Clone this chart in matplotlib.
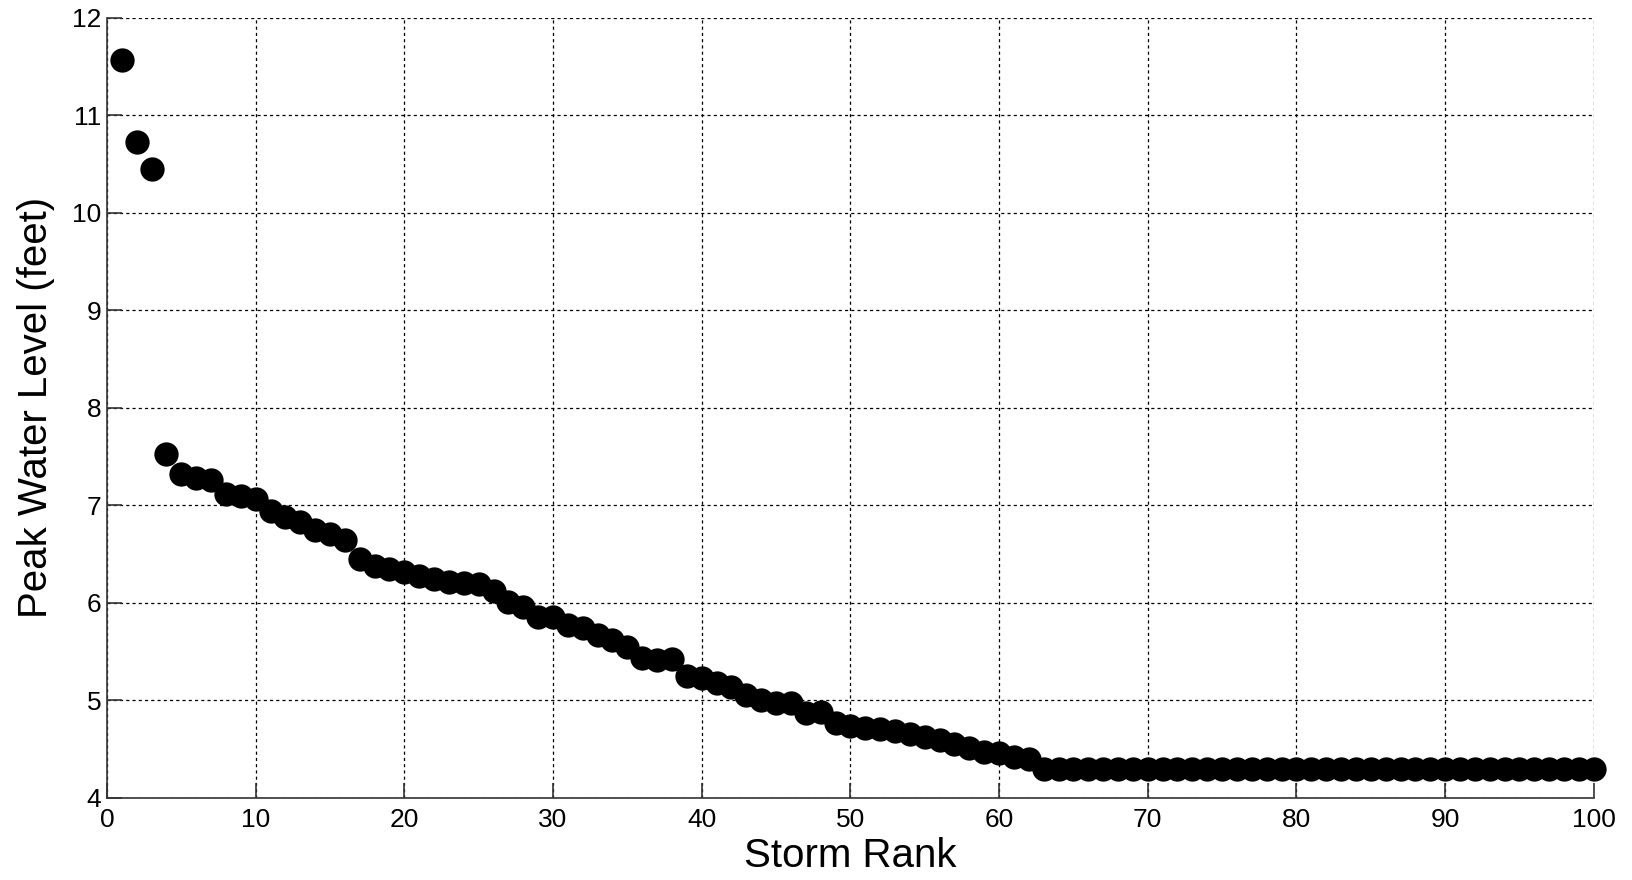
import matplotlib
matplotlib.use("Agg")
import matplotlib.pyplot as plt

# Peak water level for each storm, ordered by rank (1 = highest)
storm_rank = list(range(1, 101))
peak_level_ft = [
    11.57, 10.72, 10.45, 7.53, 7.32, 7.28, 7.26, 7.12, 7.10, 7.07,
    6.94, 6.88, 6.83, 6.75, 6.71, 6.64, 6.45, 6.38, 6.35, 6.32,
    6.28, 6.24, 6.21, 6.20, 6.19, 6.12, 6.01, 5.96, 5.86, 5.86,
    5.77, 5.74, 5.67, 5.62, 5.55, 5.43, 5.41, 5.42, 5.25, 5.23,
    5.18, 5.14, 5.06, 5.00, 4.97, 4.97, 4.87, 4.88, 4.77, 4.74,
    4.72, 4.71, 4.69, 4.66, 4.63, 4.59, 4.55, 4.51, 4.47, 4.46,
    4.42, 4.40,
] + [4.30] * 38

x_ticks = list(range(0, 101, 10))
y_ticks = list(range(4, 13))

plt.rcParams["font.family"] = ["Liberation Sans", "DejaVu Sans"]

fig = plt.figure(figsize=(16.33, 8.80), dpi=100)
ax = fig.add_axes([0.0655, 0.0932, 0.9105, 0.8868])

ax.plot(storm_rank, peak_level_ft, "o", color="black", markersize=17.5,
        markeredgewidth=0, zorder=3, clip_on=False)

ax.set_xlim(0, 100)
ax.set_ylim(4, 12)
ax.set_xticks(x_ticks)
ax.set_yticks(y_ticks)

for side in ("top", "right"):
    ax.spines[side].set_visible(False)
for side in ("left", "bottom"):
    ax.spines[side].set_linewidth(1.2)
    ax.spines[side].set_color("#333333")

ax.tick_params(direction="in", length=11, width=1.2, labelsize=19,
               color="#333333", pad=4)
ax.tick_params(axis="x", pad=7)

ax.grid(True, color="black", linestyle=(0, (2.5, 2.5)), linewidth=0.9,
        zorder=1)
ax.set_axisbelow(True)

ax.set_xlabel("Storm Rank", fontsize=29, labelpad=4)
ax.set_ylabel("Peak Water Level (feet)", fontsize=29, labelpad=12)

fig.savefig("out.png", dpi=100)
